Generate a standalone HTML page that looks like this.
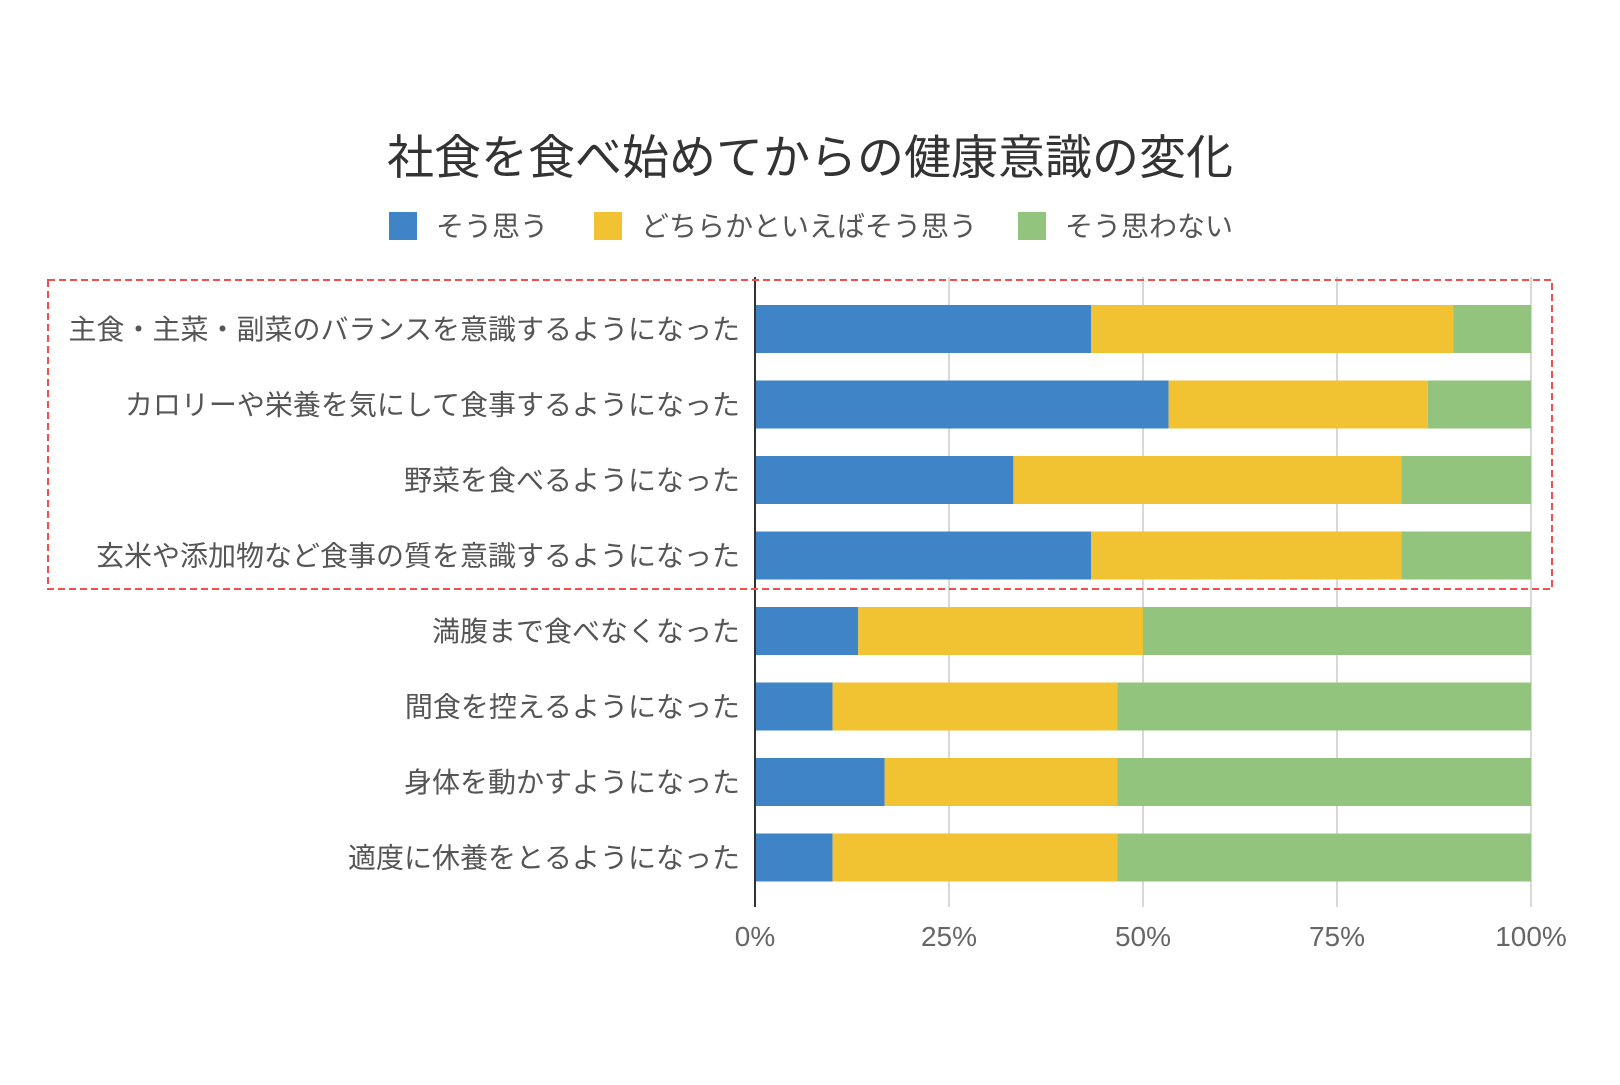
<!DOCTYPE html>
<html><head><meta charset="utf-8"><style>
body{margin:0;background:#fff;}
svg text{font-family:"Liberation Sans","Noto Sans CJK JP",sans-serif;}
</style></head><body>
<svg id="chart" width="1620" height="1080" viewBox="0 0 1620 1080" xmlns="http://www.w3.org/2000/svg">
<text x="810" y="174" text-anchor="middle" font-size="47" fill="#333">社食を食べ始めてからの健康意識の変化</text>
<g id="legend"></g>
<g id="grid"></g>
<g id="bars"></g>
<g id="labels"></g>
<g id="ticks"></g>
<line x1="755" y1="277" x2="755" y2="907" stroke="#333" stroke-width="2"/>
<rect x="48" y="280" width="1504" height="309" fill="none" stroke="#f05050" stroke-width="2" stroke-dasharray="7,4"/>
</svg>
<script>
const categories=["主食・主菜・副菜のバランスを意識するようになった","カロリーや栄養を気にして食事するようになった","野菜を食べるようになった","玄米や添加物など食事の質を意識するようになった","満腹まで食べなくなった","間食を控えるようになった","身体を動かすようになった","適度に休養をとるようになった"];
const seriesNames=["そう思う","どちらかといえばそう思う","そう思わない"];
const agree=[43.3,53.3,33.3,43.3,13.3,10,16.7,10];
const somewhat=[46.7,33.4,50,40,36.7,36.7,30,36.7];
const disagree=[10,13.3,16.7,16.7,50,53.3,53.3,53.3];
const tickValues=[0,25,50,75,100];
const tickLabels=["0%","25%","50%","75%","100%"];
const colors=["#3f84c6","#f1c232","#93c47d"];
const NS="http://www.w3.org/2000/svg";
const x0=755,x1=1531;
function xs(v){return x0+(x1-x0)*v/100;}
function yc(i){return 329+i*75.5;}
const barH=48;
function mk(tag,attrs,parent){const e=document.createElementNS(NS,tag);for(const k in attrs)e.setAttribute(k,attrs[k]);parent.appendChild(e);return e;}
const grid=document.getElementById('grid'),ticks=document.getElementById('ticks');
tickValues.forEach((v,i)=>{
  if(v>0){const l=mk('line',{x1:xs(v),x2:xs(v),y1:277,y2:907,stroke:'#ccc','stroke-width':1.5},grid);
  
  }
  const t=mk('text',{x:xs(v),y:946,'text-anchor':'middle','font-size':28,fill:'#666'},ticks);
  t.textContent=tickLabels[i];
  
  
});
const bars=document.getElementById('bars'),labels=document.getElementById('labels');
const series=[agree,somewhat,disagree];
categories.forEach((c,i)=>{
  let acc=0;
  series.forEach((s,k)=>{
    const r=mk('rect',{x:xs(acc),y:yc(i)-barH/2,width:xs(acc+s[i])-xs(acc),height:barH,fill:colors[k]},bars);
    
    
    acc+=s[i];
  });
  const t=mk('text',{x:740,y:yc(i)+10,'text-anchor':'end','font-size':28,fill:'#555'},labels);
  t.textContent=c;
  
  
});
const legend=document.getElementById('legend');
const lx=[389,594,1018];
seriesNames.forEach((n,k)=>{
  const r=mk('rect',{x:lx[k],y:212,width:28,height:28,fill:colors[k]},legend);
  
  
  const t=mk('text',{x:lx[k]+47,y:236,'font-size':28,fill:'#555'},legend);
  t.textContent=n;
  
  
});
</script>
</body></html>
